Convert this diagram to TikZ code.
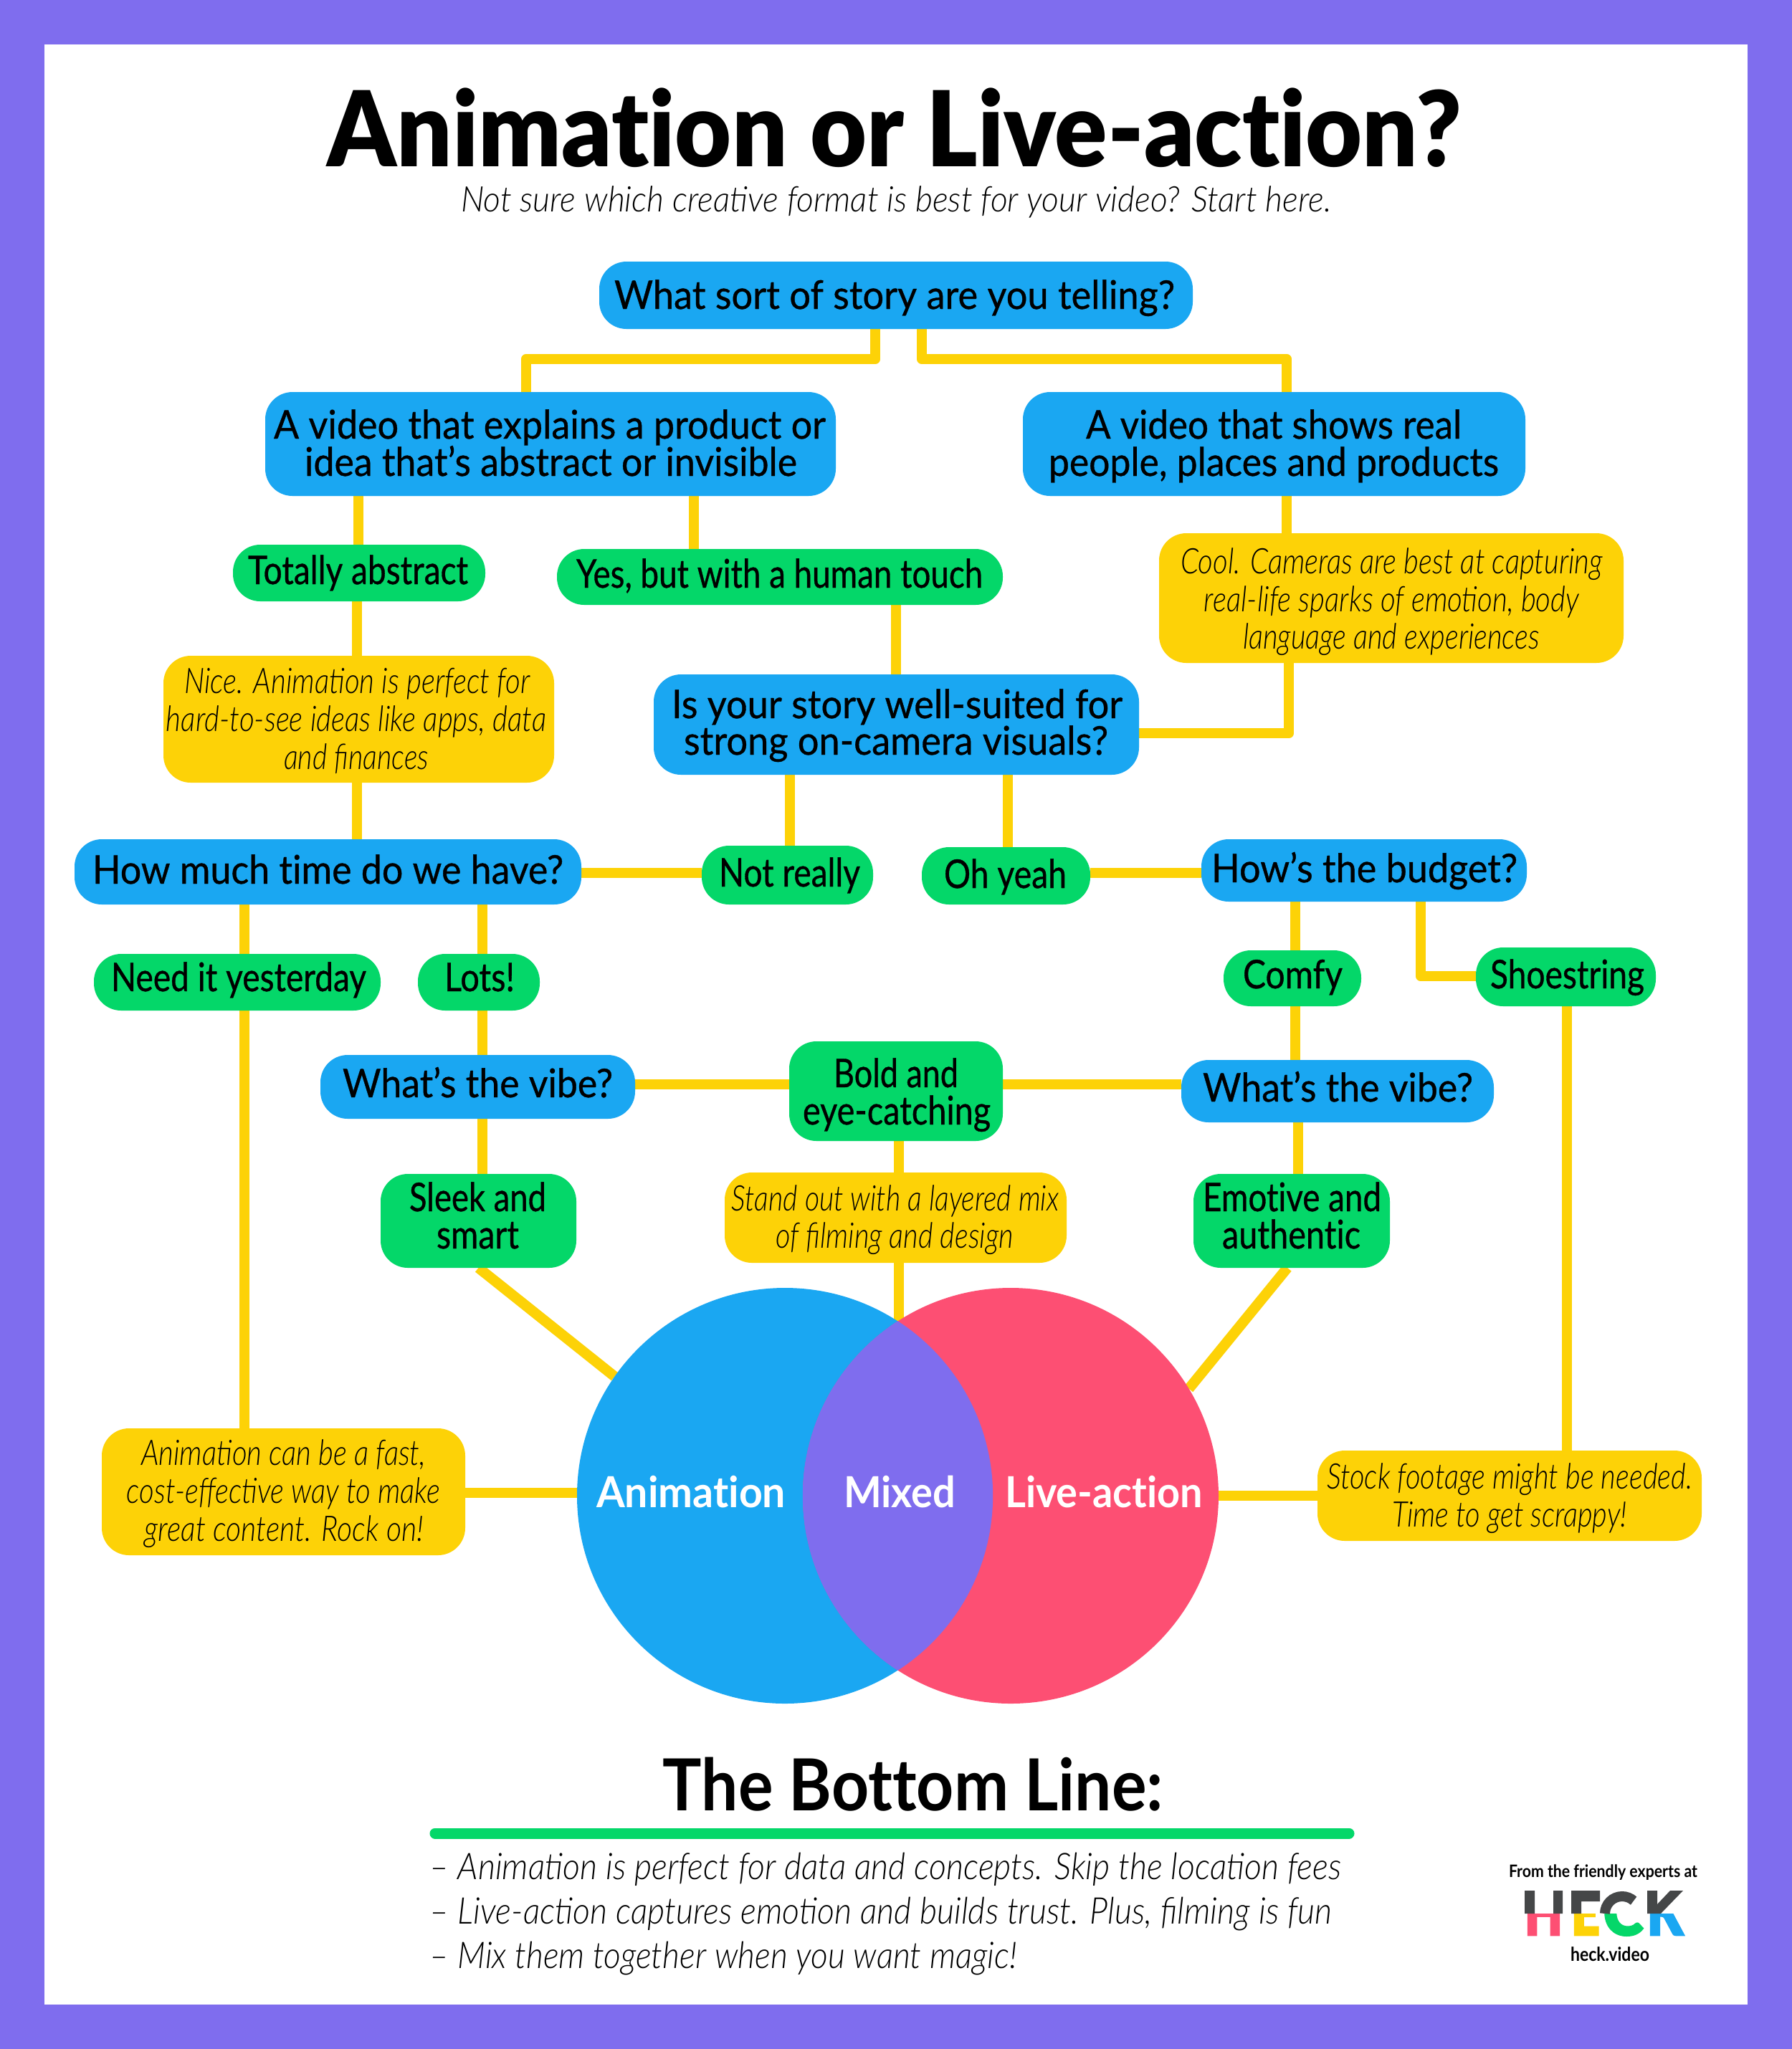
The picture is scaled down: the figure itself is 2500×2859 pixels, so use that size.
\documentclass[tikz,border=0pt]{standalone}
\usepackage{graphicx}
\usepackage{fontspec}
\usetikzlibrary{backgrounds}
\setmainfont{Lato}
\newfontfamily\medf{Lato}[FakeBold=0.7,Ligatures=NoCommon]
\newfontfamily\boldf{Lato Bold}[Ligatures=NoCommon]
\newfontfamily\titlef{Lato Black}[Ligatures=NoCommon]
\newfontfamily\logof{Lato Black}[FakeBold=3]
\newfontfamily\litef{Lato Light Italic}
\definecolor{hpurple}{HTML}{7F6DEE}
\definecolor{hblue}{HTML}{1AA7F2}
\definecolor{hgreen}{HTML}{04D769}
\definecolor{hyellow}{HTML}{FDD207}
\definecolor{hpink}{HTML}{FD4F73}
\definecolor{hdark}{HTML}{454748}
\newlength\pxu \setlength\pxu{0.01cm}
% one line of text, placed by absolute left, right and baseline values
\newcommand\tln[4]{\pgfmathsetmacro\tdx{(#1+#2)/2-\cx}\pgfmathsetmacro\toff{\cy-#3-1}\pgfmathsetmacro\tw{#2-#1}%
\makebox[0pt]{\kern\tdx\pxu\kern\tdx\pxu\raisebox{\toff\pxu}[0pt][0pt]{\resizebox{\tw\pxu}{\height}{#4}}}}
\newcommand\bx[7]{\pgfmathsetmacro\cx{(#3+#5)/2}\pgfmathsetmacro\cy{(#4+#6)/2}\pgfmathsetmacro\bw{#5-#3}\pgfmathsetmacro\bh{#6-#4}%
\node[#1,minimum width=\bw\pxu,minimum height=\bh\pxu] (#2) at (\cx,\cy) {#7};}
% connectors
\newcommand\vc[3]{\path (#3,0) coordinate (cxa); \draw[conn] (cxa |- #1.south) -- (cxa |- #2.north);}
\newcommand\hc[3]{\path (0,#3) coordinate (cya); \draw[conn] (#1.east |- cya) -- (#2.west |- cya);}
\tikzset{
 x=0.01cm,y=-0.01cm,
 conn/.style={draw=hyellow,line width=0.145cm,line join=round},
 base/.style={rectangle,inner sep=0pt,outer sep=0pt,rounded corners=0.38cm,text=black},
 qbox/.style={base,fill=hblue,font=\medf\fontsize{15.7}{16}\selectfont},
 abox/.style={base,fill=hgreen,font=\medf\fontsize{15.7}{16}\selectfont},
 nbox/.style={base,fill=hyellow,font=\litef\fontsize{14}{15}\selectfont},
 plain/.style={rectangle,inner sep=0pt,outer sep=0pt,text=black},
 vennc/.style={circle,inner sep=0pt,outer sep=0pt,text=white,font=\boldf\fontsize{17}{18}\selectfont},
}
\begin{document}
\begin{tikzpicture}
\useasboundingbox (0,0) rectangle (2500,2859);

\bx{plain,font=\titlef\fontsize{41.5}{42}\selectfont}{title}{457}{122}{2039}{232}{\tln{457}{2039}{231}{Animation or Live-action?}}
\bx{plain,font=\litef\fontsize{14}{15}\selectfont}{sub}{643}{258}{1857}{294}{\tln{643}{1857}{294}{Not sure which creative format is best for your video? Start here.}}

\bx{qbox}{q1}{836}{365}{1664}{459}{\tln{857}{1639}{430}{What sort of story are you telling?}}
\bx{qbox}{q2}{370}{547}{1166}{692}{\tln{382}{1152}{611}{A video that explains a product or}\tln{425}{1112}{663}{idea that’s abstract or invisible}}
\bx{qbox}{q3}{1427}{547}{2128}{692}{\tln{1515}{2039}{611}{A video that shows real}\tln{1463}{2091}{663}{people, places and products}}
\bx{abox}{tot}{325}{760}{677}{839}{\tln{346}{653}{814}{Totally abstract}}
\bx{abox}{yes}{777}{766}{1399}{844}{\tln{804}{1371}{819}{Yes, but with a human touch}}
\bx{nbox}{cool}{1617}{744}{2265}{925}{\tln{1647}{2236}{799}{Cool. Cameras are best at capturing}\tln{1680}{2203}{852}{real-life sparks of emotion, body}\tln{1734}{2148}{904}{language and experiences}}
\bx{nbox}{nice}{228}{915}{773}{1092}{\tln{257}{739}{966}{Nice. Animation is perfect for}\tln{232}{762}{1019}{hard-to-see ideas like apps, data}\tln{396}{598}{1072}{and finances}}
\bx{qbox}{isq}{912}{941}{1589}{1081}{\tln{937}{1566}{1001}{Is your story well-suited for}\tln{954}{1546}{1052}{strong on-camera visuals?}}
\bx{qbox}{tim}{104}{1171}{811}{1262}{\tln{129}{786}{1232}{How much time do we have?}}
\bx{abox}{notr}{979}{1180}{1218}{1262}{\tln{1003}{1200}{1236}{Not really}}
\bx{abox}{ohy}{1286}{1182}{1521}{1262}{\tln{1317}{1488}{1238}{Oh yeah}}
\bx{qbox}{bud}{1676}{1171}{2130}{1258}{\tln{1690}{2117}{1230}{How’s the budget?}}
\bx{abox}{need}{131}{1331}{531}{1410}{\tln{155}{511}{1382}{Need it yesterday}}
\bx{abox}{lots}{583}{1331}{753}{1410}{\tln{620}{718}{1382}{Lots!}}
\bx{abox}{comfy}{1707}{1326}{1899}{1404}{\tln{1734}{1873}{1378}{Comfy}}
\bx{abox}{shoe}{2059}{1322}{2310}{1404}{\tln{2079}{2294}{1378}{Shoestring}}
\bx{qbox}{vibl}{447}{1472}{886}{1561}{\tln{478}{855}{1530}{What’s the vibe?}}
\bx{abox}{bold}{1101}{1453}{1399}{1592}{\tln{1163}{1337}{1516}{Bold and}\tln{1120}{1382}{1568}{eye-catching}}
\bx{qbox}{vibr}{1648}{1479}{2084}{1566}{\tln{1678}{2055}{1536}{What’s the vibe?}}
\bx{abox}{sleek}{531}{1638}{804}{1769}{\tln{571}{762}{1689}{Sleek and}\tln{609}{724}{1741}{smart}}
\bx{nbox}{stand}{1011}{1636}{1488}{1762}{\tln{1021}{1477}{1688}{Stand out with a layered mix}\tln{1082}{1414}{1740}{of filming and design}}
\bx{abox}{emo}{1665}{1638}{1939}{1769}{\tln{1678}{1927}{1689}{Emotive and}\tln{1705}{1898}{1741}{authentic}}
\bx{nbox}{anbox}{142}{1993}{649}{2170}{\tln{197}{594}{2043}{Animation can be a fast,}\tln{177}{614}{2096}{cost-effective way to make}\tln{202}{591}{2149}{great content. Rock on!}}
\bx{nbox}{stock}{1838}{2024}{2374}{2150}{\tln{1851}{2361}{2076}{Stock footage might be needed.}\tln{1942}{2270}{2129}{Time to get scrappy!}}

% Venn
\bx{vennc,fill=hblue}{vl}{805}{1797}{1385}{2377}{\tln{832}{1096}{2102}{Animation}}
\bx{vennc,fill=hpink}{vr}{1120}{1797}{1700}{2377}{\tln{1402}{1678}{2102}{Live-action}}
\begin{scope}
\clip (vl.center) circle [radius=2.9cm];
\fill[hpurple] (vr.center) circle [radius=2.9cm];
\end{scope}
\bx{plain,text=white,font=\boldf\fontsize{17}{18}\selectfont}{mix}{1177}{2050}{1333}{2102}{\tln{1177}{1333}{2102}{Mixed}}

% Bottom
\bx{plain,font=\boldf\fontsize{28.5}{30}\selectfont}{bl}{925}{2451}{1623}{2526}{\tln{925}{1623}{2525}{The Bottom Line:}}
\bx{plain,font=\litef\fontsize{14.6}{15}\selectfont}{b1}{600}{2586}{1871}{2622}{\tln{600}{1871}{2621}{– Animation is perfect for data and concepts. Skip the location fees}}
\bx{plain,font=\litef\fontsize{14.6}{15}\selectfont}{b2}{600}{2648}{1858}{2684}{\tln{600}{1858}{2683}{– Live-action captures emotion and builds trust. Plus, filming is fun}}
\bx{plain,font=\litef\fontsize{14.6}{15}\selectfont}{b3}{600}{2710}{1419}{2746}{\tln{600}{1419}{2745}{– Mix them together when you want magic!}}
\path (607,2558) coordinate (gl1) (1882,2558) coordinate (gl2);
\draw[draw=hgreen,line width=0.15cm,line cap=round] (gl1) -- (gl2);

% Logo
\bx{plain,font=\boldf\fontsize{6.8}{7}\selectfont}{lg1}{2105}{2602}{2368}{2619}{\tln{2105}{2368}{2618}{From the friendly experts at}}
\bx{plain,font=\boldf\fontsize{7.6}{8}\selectfont}{lg2}{2191}{2716}{2301}{2736}{\tln{2191}{2301}{2735}{heck.video}}
\begin{scope}
\clip (2120,2670) rectangle (2355,2710);
\bx{plain,text=hpink,font=\logof\fontsize{24.5}{25}\selectfont}{lh}{2127}{2638}{2180}{2701}{\tln{2127}{2180}{2699}{H}}
\bx{plain,text=hyellow,font=\logof\fontsize{24.5}{25}\selectfont}{le}{2192}{2638}{2232}{2701}{\tln{2192}{2232}{2699}{E}}
\bx{plain,text=hgreen,font=\logof\fontsize{24.5}{25}\selectfont}{lc}{2237}{2638}{2292}{2701}{\tln{2237}{2292}{2699}{C}}
\bx{plain,text=hblue,font=\logof\fontsize{24.5}{25}\selectfont}{lk}{2298}{2638}{2348}{2701}{\tln{2298}{2348}{2699}{K}}
\end{scope}
\fill[hdark] (2127,2638) rectangle (2141,2670) (2167,2638) rectangle (2180,2670)
 (2192,2638) rectangle (2206,2670) (2192,2638) rectangle (2232,2653)
 (2298,2638) rectangle (2312,2670);
\fill[hdark] (2312,2657) -- (2330,2638) -- (2348,2638) -- (2317,2670) -- (2312,2670) -- cycle;
\draw[hdark,line width=0.14cm] (2239,2670) arc [start angle=180,end angle=48,radius=0.24cm];

% Connectors
\begin{pgfonlayer}{background}
\fill[hpurple] (0,0) rectangle (2500,2859);
\fill[white] (62,62) rectangle (2438,2797);
\path (1221,0) coordinate (ea) (734,0) coordinate (eb) (0,501) coordinate (ey) (1286,0) coordinate (ec) (1795,0) coordinate (ed);
\draw[conn] (ea |- q1.south) -- (ea |- ey) -- (eb |- ey) -- (eb |- q2.north);
\draw[conn] (ec |- q1.south) -- (ec |- ey) -- (ed |- ey) -- (ed |- q3.north);
\vc{q2}{tot}{500}
\vc{q2}{yes}{968}
\vc{q3}{cool}{1795}
\vc{tot}{nice}{498}
\vc{nice}{tim}{498}
\vc{yes}{isq}{1250}
\path (1798,0) coordinate (ef) (0,1023) coordinate (eg);
\draw[conn] (ef |- cool.south) -- (ef |- eg) -- (isq.east |- eg);
\vc{isq}{notr}{1102}
\vc{isq}{ohy}{1406}
\hc{tim}{notr}{1218}
\hc{ohy}{bud}{1218}
\vc{tim}{need}{341}
\vc{tim}{lots}{673}
\vc{lots}{vibl}{673}
\vc{need}{anbox}{341}
\vc{bud}{comfy}{1807}
\vc{comfy}{vibr}{1807}
\path (1982,0) coordinate (eh) (0,1362) coordinate (ei);
\draw[conn] (eh |- bud.south) -- (eh |- ei) -- (shoe.west |- ei);
\path (2186,0) coordinate (em);
\draw[conn] (em |- shoe.south) -- (em |- stock.north);
\hc{vibl}{bold}{1513}
\hc{bold}{vibr}{1513}
\vc{bold}{stand}{1254}
\path (1254,0) coordinate (ej);
\draw[conn] (ej |- stand.south) -- (ej |- vl.center);
\vc{vibl}{sleek}{673}
\vc{vibr}{emo}{1811}
\draw[conn] (sleek.south) -- (vl.145);
\draw[conn] ([xshift=-0.06cm]emo.south) -- (vr.31);
\path (0,2083) coordinate (ek) (0,2087) coordinate (el);
\draw[conn] (anbox.east |- ek) -- (vl.west |- ek);
\draw[conn] (vr.east |- el) -- (stock.west |- el);
\end{pgfonlayer}
\end{tikzpicture}
\end{document}
